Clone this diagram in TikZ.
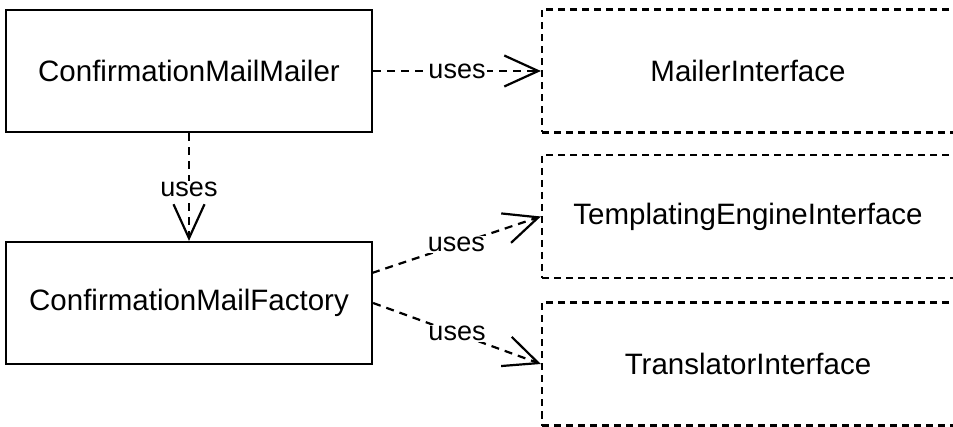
\documentclass[tikz,border=0pt]{standalone}
\usepackage{fontspec}
\setmainfont{Liberation Sans}
\usetikzlibrary{arrows.meta}
\tikzset{
  solidbox/.style={draw=black, line width=2.2pt, minimum width=366pt, minimum height=122pt, inner sep=0pt, font=\fontsize{29.5}{31}\selectfont},
  ifacebox/.style={draw=black, line width=2.2pt, dash pattern=on 7pt off 5pt, minimum width=412pt, minimum height=123pt, inner sep=0pt, font=\fontsize{29.5}{31}\selectfont},
  useslink/.style={line width=2.2pt, dash pattern=on 8pt off 6pt, -{Straight Barb[length=34pt,width=31pt,line width=2.2pt]}},
  useslabel/.style={fill=white, inner sep=1pt, font=\fontsize{27}{28}\selectfont}
}
\begin{document}
\begin{tikzpicture}[x=1pt,y=-1pt]
\useasboundingbox (0,0) rectangle (953,427);
\clip (0,0) rectangle (953,427);
\node[solidbox] (mailer) at (189,71) {ConfirmationMailMailer};
\node[solidbox] (factory) at (189,303) {ConfirmationMailFactory};
\node[ifacebox] (mi) at (748,71) {MailerInterface};
\node[ifacebox] (tei) at (748,216.5) {TemplatingEngineInterface};
\node[ifacebox] (ti) at (748,364) {TranslatorInterface};
\coordinate (fup) at (372,273);
\draw[useslink] (mailer.east) -- node[useslabel] {uses} (mi.west);
\draw[useslink] (mailer.south) -- node[useslabel, pos=0.52] {uses} (factory.north);
\draw[useslink] (fup) -- node[useslabel] {uses} (tei.west);
\draw[useslink] (factory.east) -- node[useslabel] {uses} (ti.west);
\end{tikzpicture}
\end{document}
